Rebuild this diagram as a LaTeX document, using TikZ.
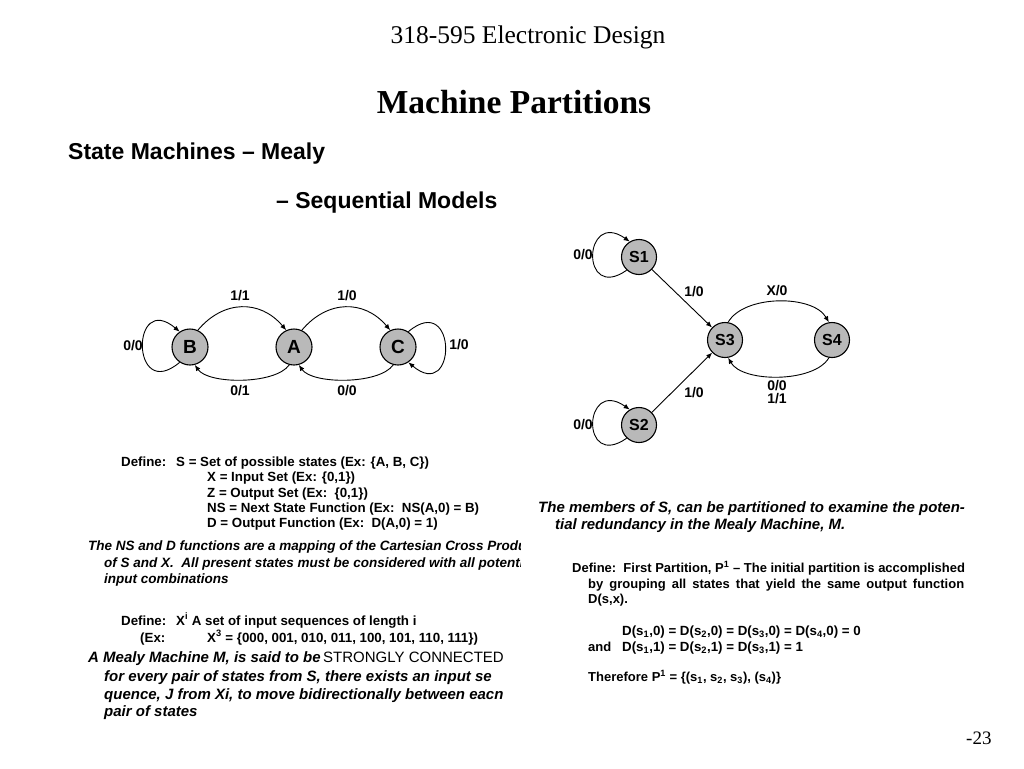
\documentclass[tikz,border=0pt]{standalone}
\usepackage{fontspec}
\setmainfont{Liberation Serif}
\setsansfont{Liberation Sans}
\usetikzlibrary{arrows.meta}
\newcommand{\fsz}[1]{\fontsize{#1}{#1}\selectfont}
\begin{document}
\begin{tikzpicture}[x=1pt,y=1pt,
  state/.style={circle,draw,line width=1.1pt,fill=gray!55,minimum size=36pt,inner sep=0pt,font=\sffamily\bfseries\fsz{19}},
  sstate/.style={state,minimum size=35pt,font=\sffamily\bfseries\fsz{16}},
  lbl/.style={font=\sffamily\bfseries\fsz{14},inner sep=0pt},
  edge/.style={line width=0.9pt,-{Latex[length=6pt,width=5pt]}},
  txt/.style={anchor=base west,inner sep=0pt,font=\sffamily\bfseries\fsz{13.3}},
  itx/.style={anchor=base west,inner sep=0pt,font=\sffamily\bfseries\itshape\fsz{13.5}},
  bigi/.style={anchor=base west,inner sep=0pt,font=\sffamily\bfseries\itshape\fsz{15}},
  rtx/.style={anchor=base west,inner sep=0pt,font=\sffamily\bfseries\fsz{13}},
  head/.style={anchor=base west,inner sep=0pt,font=\sffamily\bfseries\fsz{23}},
]
\useasboundingbox[fill=white] (0,0) rectangle (1024,-768);

% headers
\node[anchor=base,inner sep=0pt,font=\fsz{25.5}] (hdr) at (528,-44) {318-595 Electronic Design};
\node[anchor=base,inner sep=0pt,font=\bfseries\fsz{33.5}] (ttl) at (514,-113) {Machine Partitions};
\node[anchor=base west,inner sep=0pt,font=\fsz{19}] (pg) at (966,-744) {-23};
\node[head] (h1) at (68,-159) {State Machines – Mealy};
\node[head] (h2) at (276,-208) {– Sequential Models};

% left state machine
\node[state] (B) at (190,-347) {B};
\node[state] (A) at (294,-347) {A};
\node[state] (C) at (398,-347) {C};
\draw[edge] (B.236) to[out=220,in=140,distance=64pt] (B.124);
\draw[edge] (C.56) to[out=40,in=-40,distance=64pt] (C.-56);
\draw[edge] (B.65) to[out=50,in=130,distance=40pt] (A.115);
\draw[edge] (A.65) to[out=50,in=130,distance=40pt] (C.115);
\draw[edge] (A.255) to[out=235,in=305,distance=24pt] (B.285);
\draw[edge] (C.255) to[out=235,in=305,distance=24pt] (A.285);
\node[lbl] (lb1) at (240,-296) {1/1};
\node[lbl] (lb2) at (347,-296) {1/0};
\node[lbl] (lb3) at (133,-346) {0/0};
\node[lbl] (lb4) at (459,-345) {1/0};
\node[lbl] (lb5) at (240,-391) {0/1};
\node[lbl] (lb6) at (347,-391) {0/0};

% right state machine
\node[sstate] (S1) at (639,-257) {S1};
\node[sstate] (S2) at (639,-425) {S2};
\node[sstate] (S3) at (725,-340) {S3};
\node[sstate] (S4) at (832,-340) {S4};
\draw[edge] (S1.227) to[out=215,in=145,distance=57pt] (S1.121);
\draw[edge] (S2.227) to[out=215,in=145,distance=57pt] (S2.121);
\draw[edge] (S1) -- (S3);
\draw[edge] (S2) -- (S3);
\draw[edge] (S3.80) to[out=60,in=120,distance=32pt] (S4.100);
\draw[edge] (S4.-100) to[out=240,in=300,distance=29pt] (S3.-80);
\node[lbl] (ls1) at (583,-255) {0/0};
\node[lbl] (ls2) at (583,-425) {0/0};
\node[lbl] (ls3) at (694,-292) {1/0};
\node[lbl] (ls4) at (694,-393) {1/0};
\node[lbl] (ls5) at (777,-291) {X/0};
\node[lbl,align=center,font=\sffamily\bfseries\fontsize{14}{13}\selectfont] (ls6) at (777,-392.5) {0/0\\1/1};

% left text
\node[txt] (t1) at (121,-466) {Define:};
\node[txt] (t2) at (176,-466) {S = Set of possible states (Ex: \{A, B, C\})};
\node[txt] (t3) at (207,-481) {X = Input Set (Ex: \{0,1\})};
\node[txt] (t4) at (207,-497) {Z = Output Set (Ex:\ \ \{0,1\})};
\node[txt] (t5) at (207,-512) {NS = Next State Function (Ex:\ \ NS(A,0) = B)};
\node[txt] (t6) at (207,-527) {D = Output Function (Ex:\ \ D(A,0) = 1)};
\begin{scope}
\clip (0,0) rectangle (520,-768);
\node[itx] (t7) at (88,-550) {The NS and D functions are a mapping of the Cartesian Cross Produc};
\node[itx] (t8) at (104,-567) {of S and X.\ \ All present states must be considered with all potenti};
\node[bigi] (t14) at (104,-681) {for every pair of states from S, there exists an input se};
\node[bigi] (t15) at (104,-699) {quence, J from Xi, to move bidirectionally between eacn};
\end{scope}
\node[itx] (t9) at (104,-583) {input combinations};
\node[txt] (t10) at (121,-625) {Define:};
\node[txt] (t11) at (176,-625) {X\textsuperscript{i} A set of input sequences of length i};
\node[txt] (t12) at (140,-642) {(Ex:};
\node[txt] (t13) at (207,-642) {X\textsuperscript{3} = \{000, 001, 010, 011, 100, 101, 110, 111\})};
\node[bigi] (t16) at (88,-662) {A Mealy Machine M, is said to be};
\node[anchor=base west,inner sep=0pt,font=\sffamily\fsz{15}] (t17) at (323,-662) {STRONGLY CONNECTED};
\node[bigi] (t18) at (104,-716) {pair of states};

% right text
\node[bigi] (r1) at (538,-512) {The members of S, can be partitioned to examine the poten-};
\node[bigi] (r2) at (555,-529) {tial redundancy in the Mealy Machine, M.};
\node[rtx] (r3) at (572,-572) {Define:\ \ First Partition, P\textsuperscript{1} – The initial partition is accomplished};
\node[rtx] (r4) at (588,-588) {\makebox[376pt][s]{by grouping all states that yield the same output function}};
\node[rtx] (r5) at (588,-603) {D(s,x).};
\node[rtx,font=\sffamily\bfseries\fsz{13.3}] (r6) at (622,-635) {D(s\textsubscript{1},0) = D(s\textsubscript{2},0) = D(s\textsubscript{3},0) = D(s\textsubscript{4},0) = 0};
\node[rtx] (r7) at (588,-651) {and};
\node[rtx,font=\sffamily\bfseries\fsz{13.3}] (r8) at (622,-651) {D(s\textsubscript{1},1) = D(s\textsubscript{2},1) = D(s\textsubscript{3},1) = 1};
\node[rtx] (r9) at (588,-681) {Therefore P\textsuperscript{1} = \{(s\textsubscript{1}, s\textsubscript{2}, s\textsubscript{3}), (s\textsubscript{4})\}};
\end{tikzpicture}
\end{document}
